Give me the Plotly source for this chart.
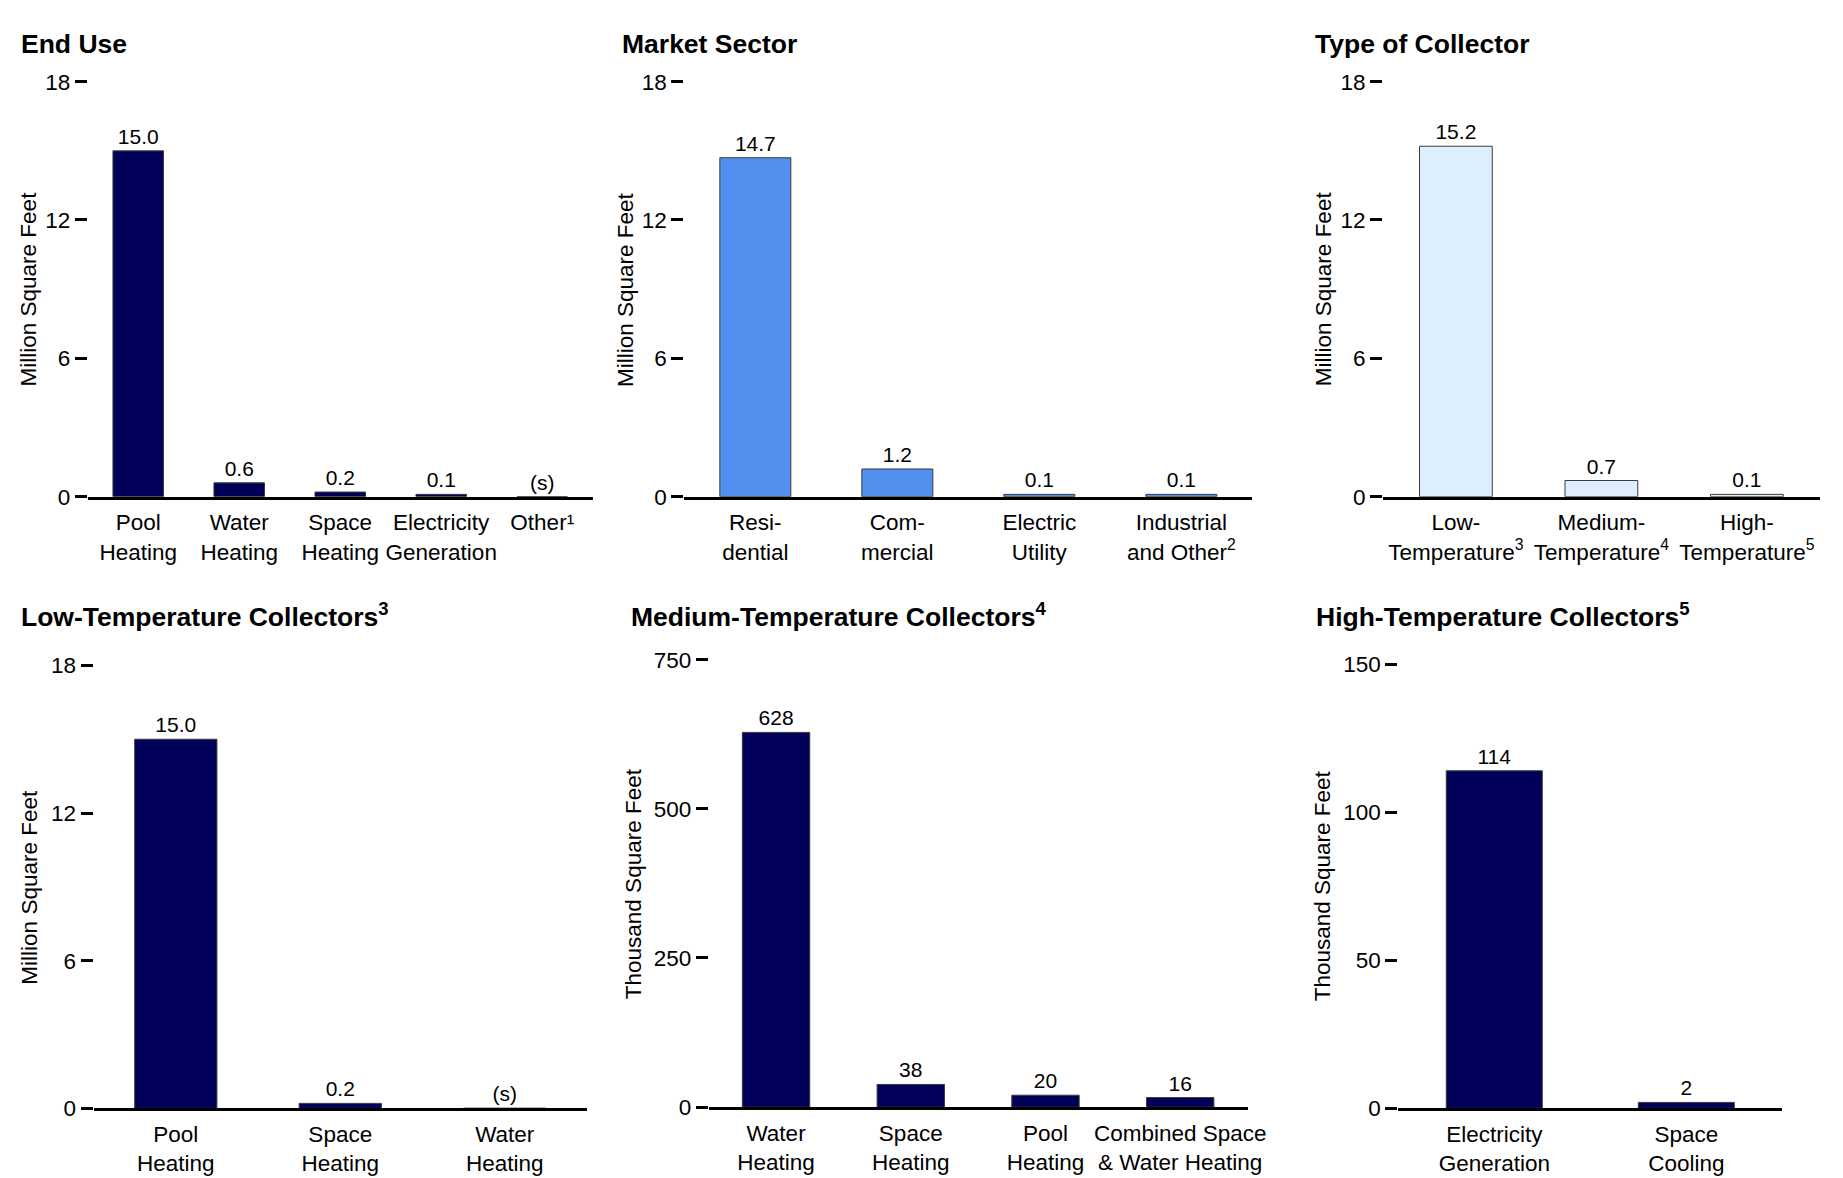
import plotly.graph_objects as go

# ---------------- data ----------------
end_use_cats = ["Pool<br>Heating", "Water<br>Heating", "Space<br>Heating",
                "Electricity<br>Generation", "Other¹"]
end_use_vals = [15.0, 0.6, 0.2, 0.1, 0.0]
end_use_text = ["15.0", "0.6", "0.2", "0.1", "(s)"]

market_cats = ["Resi-<br>dential", "Com-<br>mercial", "Electric<br>Utility",
               "Industrial<br>and Other<sup>2</sup>"]
market_vals = [14.7, 1.2, 0.1, 0.1]
market_text = ["14.7", "1.2", "0.1", "0.1"]

collector_cats = ["Low-<br>Temperature<sup>3</sup>", "Medium-<br>Temperature<sup>4</sup>",
                  "High-<br>Temperature<sup>5</sup>"]
collector_vals = [15.2, 0.7, 0.1]
collector_text = ["15.2", "0.7", "0.1"]

low_cats = ["Pool<br>Heating", "Space<br>Heating", "Water<br>Heating"]
low_vals = [15.0, 0.2, 0.0]
low_text = ["15.0", "0.2", "(s)"]

med_cats = ["Water<br>Heating", "Space<br>Heating", "Pool<br>Heating",
            "Combined Space<br>&amp; Water Heating"]
med_vals = [628, 38, 20, 16]
med_text = ["628", "38", "20", "16"]

high_cats = ["Electricity<br>Generation", "Space<br>Cooling"]
high_vals = [114, 2]
high_text = ["114", "2"]

titles = ["End Use", "Market Sector", "Type of Collector",
          "Low-Temperature Collectors<sup>3</sup>",
          "Medium-Temperature Collectors<sup>4</sup>",
          "High-Temperature Collectors<sup>5</sup>"]
y_titles = ["Million Square Feet", "Million Square Feet", "Million Square Feet",
            "Million Square Feet", "Thousand Square Feet", "Thousand Square Feet"]
y_ticks = [[0, 6, 12, 18], [0, 6, 12, 18], [0, 6, 12, 18],
           [0, 6, 12, 18], [0, 250, 500, 750], [0, 50, 100, 150]]

# ---------------- styling / layout ----------------
W, H = 1843, 1178
NAVY = "#000058"
BLUE = "#5190EE"
LIGHT = "#DDEEFF"
FONT = "Liberation Sans, Arial, sans-serif"

panels = [
    dict(cats=end_use_cats, vals=end_use_vals, text=end_use_text, color=NAVY,
         px=(80.5, 590.5), py=(487.0, 63.0), title_xy=(11.5, 25), ytitle_x=20.5),
    dict(cats=market_cats, vals=market_vals, text=market_text, color=BLUE,
         px=(683, 1256.6), py=(487.0, 63.0), title_xy=(618, 25), ytitle_x=623),
    dict(cats=collector_cats, vals=collector_vals, text=collector_text, color=LIGHT,
         px=(1388.7, 1829.5), py=(487.0, 63.0), title_xy=(1317.6, 25), ytitle_x=1328),
    dict(cats=low_cats, vals=low_vals, text=low_text, color=NAVY,
         px=(86.4, 584.7), py=(1111.9, 659.4), title_xy=(11.5, 607.7), ytitle_x=22),
    dict(cats=med_cats, vals=med_vals, text=med_text, color=NAVY,
         px=(707.6, 1251.8), py=(1110.7, 653.5), title_xy=(627.6, 607.7), ytitle_x=632),
    dict(cats=high_cats, vals=high_vals, text=high_text, color=NAVY,
         px=(1404, 1791.8), py=(1111.9, 658.2), title_xy=(1318.8, 607.7), ytitle_x=1327),
]

fig = go.Figure()
annotations = []
layout_axes = {}

for i, p in enumerate(panels):
    n = i + 1
    xa = "x" if n == 1 else f"x{n}"
    ya = "y" if n == 1 else f"y{n}"
    xkey = "xaxis" if n == 1 else f"xaxis{n}"
    ykey = "yaxis" if n == 1 else f"yaxis{n}"

    fig.add_trace(go.Bar(
        x=list(range(len(p["cats"]))), y=p["vals"], text=p["text"],
        textposition="outside", constraintext="none", cliponaxis=False,
        textfont=dict(size=21, color="black", family=FONT),
        marker=dict(color=p["color"], line=dict(color="#3a3a3a", width=1)),
        xaxis=xa, yaxis=ya, showlegend=False, hoverinfo="skip",
    ))

    x0, x1 = p["px"]
    yb, yt = p["py"]
    layout_axes[xkey] = dict(
        domain=[x0 / W, x1 / W], anchor=ya,
        range=[-0.5, len(p["cats"]) - 0.5],
        tickmode="array", tickvals=list(range(len(p["cats"]))), ticktext=p["cats"],
        showline=True, linecolor="black", linewidth=2.5,
        ticks="", showgrid=False, zeroline=False, fixedrange=True,
        ticklabelstandoff=4,
        tickfont=dict(size=22.5, color="black", family=FONT),
    )
    yr = y_ticks[i]
    layout_axes[ykey] = dict(
        domain=[1 - yb / H, 1 - yt / H], anchor=xa,
        range=[yr[0], yr[-1]], tickmode="array", tickvals=yr,
        ticks="outside", ticklen=12, tickwidth=2.5, tickcolor="black",
        showline=False, showgrid=False, zeroline=False, fixedrange=True,
        tickfont=dict(size=22.5, color="black", family=FONT),
    )

    tx, ty = p["title_xy"]
    annotations.append(dict(
        text=f"<b>{titles[i]}</b>", x=tx / W, y=1 - ty / H, xref="paper", yref="paper",
        xanchor="left", yanchor="middle", showarrow=False,
        font=dict(size=26.5, color="black", family=FONT),
    ))
    annotations.append(dict(
        text=y_titles[i], x=p["ytitle_x"] / W, y=1 - (yb + yt) / 2 / H,
        xref="paper", yref="paper", xanchor="center", yanchor="middle",
        textangle=-90, showarrow=False,
        font=dict(size=22.5, color="black", family=FONT),
    ))

fig.update_layout(
    width=W, height=H, margin=dict(l=0, r=0, t=0, b=0),
    paper_bgcolor="white", plot_bgcolor="white",
    bargap=0.5, annotations=annotations,
    font=dict(family=FONT, color="black"),
    **layout_axes,
)

fig.write_html("out.html")
